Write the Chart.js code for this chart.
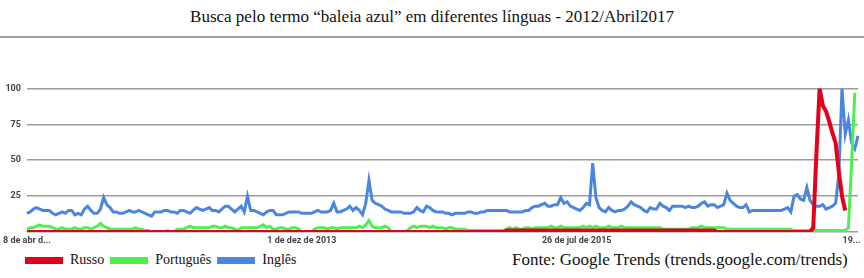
<!DOCTYPE html>
<html>
<head>
<meta charset="utf-8">
<script src="https://cdn.jsdelivr.net/npm/chart.js@4/dist/chart.umd.min.js"></script>
<style>
  html, body { margin: 0; padding: 0; background: #fff; }
  body { width: 864px; height: 278px; position: relative; overflow: hidden;
         font-family: 'Liberation Serif', 'Times New Roman', serif; color: #111; }
  #title { position: absolute; left: 0; top: 7px; width: 864px; text-align: center; font-size: 17px; }
  #rule { position: absolute; left: 0; top: 36px; width: 864px; height: 2px; background: #a0a0a0; }
  #wrap { position: absolute; left: 0; top: 77px; width: 864px; height: 173px; }
  #legend { position: absolute; left: 25px; top: 252px; font-size: 14px; display: flex; align-items: center; }
  #legend .it { display: flex; align-items: center; margin-right: 6px; }
  #legend .sw { display: inline-block; width: 38px; height: 7px; margin-right: 7px; }
  #fonte { position: absolute; left: 512px; top: 250px; font-size: 17px; }
</style>
</head>
<body>
<div id="title">Busca pelo termo “baleia azul” em diferentes línguas - 2012/Abril2017</div>
<div id="rule"></div>
<div id="wrap"><canvas id="chart"></canvas></div>
<div id="legend"></div>
<div id="fonte">Fonte: Google Trends (trends.google.com/trends)</div>
<script>
// semanas: 8 abr 2012 .. abr 2017 (261 pontos)
const tickLabels = { 0: '8 de abr d...', 86: '1 de dez de 2013', 172: '26 de jul de 2015', 258: '19...' };

const seriesNames = ['Russo', 'Português', 'Inglês'];
const seriesColors = ['#e3001b', '#4cf04c', '#4a86e0'];

const russo = [
  0,0,0,0,0,0,0,0,0,0, 0,0,0,0,0,0,0,0,0,0, 0,0,0,0,0,0,0,0,0,0,
  0,0,0,0,0,0,0,0,0,0, 0,0,0,0,0,0,0,0,0,0, 0,0,0,0,0,0,0,0,0,0,
  0,0,0,0,0,0,0,0,0,0, 0,0,0,0,0,0,0,0,0,0, 0,0,0,0,0,0,0,0,0,0,
  0,0,0,0,0,0,0,0,0,0, 0,0,0,0,0,0,0,0,0,0, 0,0,0,0,0,0,0,0,0,0,
  0,0,0,0,0,0,0,0,0,0, 0,0,0,0,0,0,0,0,0,0, 0,0,0,0,0,0,0,0,0,0,
  1,1,1,1,1,1,1,1,1,1, 1,1,1,1,1,1,1,1,1,1, 1,1,1,1,1,1,1,1,1,1,
  1,1,1,1,1,1,1,1,1,1, 1,1,1,1,1,1,1,1,1,1, 1,1,1,1,1,1,1,1,1,1,
  1,1,1,1,1,1,0,0,0,0, 0,0,0,0,0,0,0,0,0,0, 0,0,0,0,0,0,0,0,0,0,
  0,0,0,0,0,0,3,55,100,88, 84,77,69,62,42,25,15,null,null,null, null
];

const portugues = [
  2,3,3,4,5,4,4,4,3,2, 2,3,2,2,2,3,2,2,3,3, 2,3,4,6,4,3,2,2,2,2, 2,2,2,2,3,2,2,1,1,0,
  0,0,0,0,1,0,0,2,2,2, 3,4,3,3,3,3,3,3,4,4, 3,3,4,3,3,2,1,3,3,3, 3,3,3,4,5,3,4,2,2,3,
  3,2,2,3,3,2,0,0,0,0, 2,3,3,3,2,3,3,2,3,3, 3,3,3,3,4,3,5,8,4,3, 3,3,4,3,0,0,0,0,0,1,
  3,4,3,4,4,4,3,4,3,3, 3,2,3,3,2,2,2,2,1,1, 1,1,1,1,1,1,1,1,1,1, 2,3,2,3,2,2,3,3,2,3,
  3,3,3,3,4,3,3,4,3,3, 3,3,3,3,4,3,4,3,4,3, 3,3,4,3,3,3,4,3,3,3, 3,3,3,3,3,3,3,3,3,2,
  2,2,2,2,2,2,2,2,3,3, 3,4,3,3,3,3,3,3,3,2, 2,2,2,2,2,2,2,2,2,2, 2,2,2,2,2,2,2,2,2,2,
  1,1,1,1,1,1,1,1,1,1, 1,1,1,1,1,1,1,3,48,97, null
];

const ingles = [
  13,14,16,17,16,15,15,15,13,12, 13,14,13,15,15,12,13,12,16,18,
  15,13,13,16,24,19,17,14,14,13, 13,14,15,14,14,15,14,13,12,11,
  14,14,14,15,15,14,14,13,15,15, 14,13,15,17,16,15,16,17,15,15,
  14,16,18,18,16,14,16,18,14,25, 15,15,14,13,12,14,15,15,12,12,
  12,13,14,14,14,14,13,13,13,13, 14,15,14,14,14,15,20,14,14,15,
  16,18,15,17,15,12,20,36,22,20, 19,18,16,15,14,14,14,14,13,13,
  13,14,17,15,14,18,17,15,14,14, 14,13,13,12,13,13,13,13,14,14,
  13,13,14,14,15,15,15,15,15,15, 15,14,14,14,14,14,15,15,17,18,
  18,19,20,18,18,19,19,24,20,21, 18,17,16,15,17,20,19,48,24,17,
  15,14,17,15,14,15,15,16,18,21, 19,18,17,15,14,17,16,16,20,18,
  17,15,18,18,18,18,17,18,17,17, 18,20,21,18,19,19,17,18,19,27,
  22,20,18,17,17,19,14,15,15,15, 15,15,15,15,15,15,15,16,17,14,
  25,26,23,22,31,22,19,18,18,19, 16,17,18,20,40,100,68,78,62,58,67
];

const weeks = ingles.map((_, i) => i);
const seriesData = [russo, portugues, ingles];
const lineWidths = [4, 3, 3];

// legenda em HTML (fonte serifada como no original)
const legend = document.getElementById('legend');
seriesNames.forEach((name, i) => {
  const it = document.createElement('span');
  it.className = 'it';
  it.innerHTML = '<span class="sw" style="background:' + seriesColors[i] + '"></span>' + name;
  legend.appendChild(it);
});

const tickFont = { family: "Roboto, 'Liberation Sans', Arial, sans-serif", size: 9, weight: 'bold' };

new Chart(document.getElementById('chart'), {
  type: 'line',
  data: {
    labels: weeks,
    datasets: seriesNames.map((name, i) => ({
      label: name,
      data: seriesData[i],
      borderColor: seriesColors[i],
      backgroundColor: seriesColors[i],
      borderWidth: lineWidths[i],
      pointRadius: 0,
      tension: 0,
      fill: false,
      spanGaps: false
    }))
  },
  options: {
    responsive: true,
    maintainAspectRatio: false,
    animation: false,
    layout: { padding: { top: 5, right: 6, left: 0, bottom: 0 } },
    plugins: { legend: { display: false }, tooltip: { enabled: false } },
    scales: {
      x: {
        grid: { display: false, drawTicks: false },
        border: { display: false },
        ticks: {
          autoSkip: false, maxRotation: 0, padding: 3,
          color: '#444', font: tickFont,
          callback: (v, idx) => tickLabels[idx] !== undefined ? tickLabels[idx] : null
        },
        afterFit: (axis) => { axis.height = 18; }
      },
      y: {
        min: 0, max: 100,
        grid: { color: '#9c9c9c', lineWidth: 1.5, drawTicks: false },
        border: { display: false },
        ticks: {
          stepSize: 25, padding: 6, color: '#444', font: tickFont,
          callback: (v) => v === 0 ? '' : v
        },
        afterFit: (axis) => { axis.width = 26; }
      }
    }
  }
});
</script>
</body>
</html>
